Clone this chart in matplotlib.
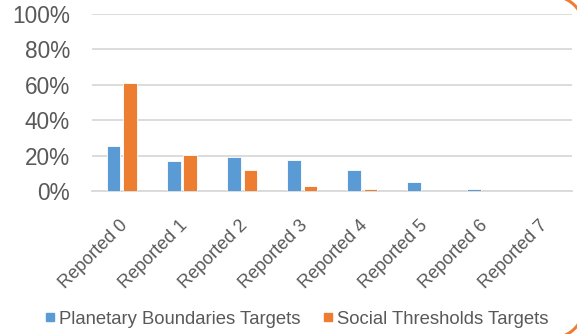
import matplotlib
matplotlib.use("Agg")
import matplotlib.pyplot as plt
import numpy as np
from matplotlib.lines import Line2D

plt.rcParams['font.family'] = ['Liberation Sans', 'DejaVu Sans']

categories = ["Reported 0", "Reported 1", "Reported 2", "Reported 3",
              "Reported 4", "Reported 5", "Reported 6", "Reported 7"]
planetary = [25.4, 17.1, 19.2, 17.5, 11.9, 4.9, 1.1, 0.0]
social = [60.8, 20.3, 11.9, 2.8, 1.1, 0.0, 0.0, 0.0]
yticks = [0, 20, 40, 60, 80, 100]
ytick_labels = ["0%", "20%", "40%", "60%", "80%", "100%"]
series_names = ["Planetary Boundaries Targets", "Social Thresholds Targets"]

blue = "#5B9BD5"
orange = "#ED7D31"
grid_c = "#D9D9D9"
text_c = "#595959"

W, H = 577, 334
fig = plt.figure(figsize=(W / 100, H / 100), dpi=100)
ax = fig.add_axes([92 / W, (H - 191) / H, 480 / W, 177 / H])

x = np.arange(len(categories))
bw = 0.225
gap = 0.05
ax.bar(x - (bw + gap) / 2, planetary, width=bw, color=blue, edgecolor="white", linewidth=0.6, zorder=3)
ax.bar(x + (bw + gap) / 2, social, width=bw, color=orange, edgecolor="white", linewidth=0.6, zorder=3)

ax.set_xlim(-0.5, len(categories) - 0.5)
ax.set_ylim(0, 100)
ax.set_yticks(yticks)
ax.set_yticklabels(ytick_labels, fontsize=16.3, color=text_c)
ax.yaxis.grid(True, color=grid_c, linewidth=1.3, zorder=0)
ax.tick_params(axis='y', length=0, pad=16)
ax.tick_params(axis='x', length=0, pad=18.5)
ax.set_xticks(x)
ax.set_xticklabels(categories, rotation=45, ha='right', va='top', rotation_mode='anchor',
                   fontsize=13, color=text_c)
for lab in ax.get_xticklabels():
    lab.set_transform(lab.get_transform() + matplotlib.transforms.ScaledTranslation(-3 / 100, 0, fig.dpi_scale_trans))
for s in ["top", "right", "left"]:
    ax.spines[s].set_visible(False)
ax.spines["bottom"].set_color(grid_c)
ax.spines["bottom"].set_linewidth(1.3)

handles = [Line2D([], [], marker='s', linestyle='none', markersize=5.8, color=blue),
           Line2D([], [], marker='s', linestyle='none', markersize=5.8, color=orange)]
fig.legend(handles, series_names, loc='center left', bbox_to_anchor=(44.5 / W, (H - 319) / H),
           ncol=2, frameon=False, fontsize=13.3, labelcolor=text_c, handlelength=0.6,
           handletextpad=0.19, columnspacing=1.16, borderpad=0, borderaxespad=0)

# rounded border corners (pixel coords, y down) converted to figure fraction
r = 32
cx = 552
for cy, a0, a1 in [(28, -90, 0), (306, 0, 90)]:
    t = np.radians(np.linspace(a0, a1, 60))
    px = cx + r * np.cos(t)
    py = cy + r * np.sin(t)
    fig.add_artist(Line2D(px / W, 1 - py / H, transform=fig.transFigure,
                          color=orange, linewidth=2.2, clip_on=False))

fig.savefig("out.png", dpi=100)
